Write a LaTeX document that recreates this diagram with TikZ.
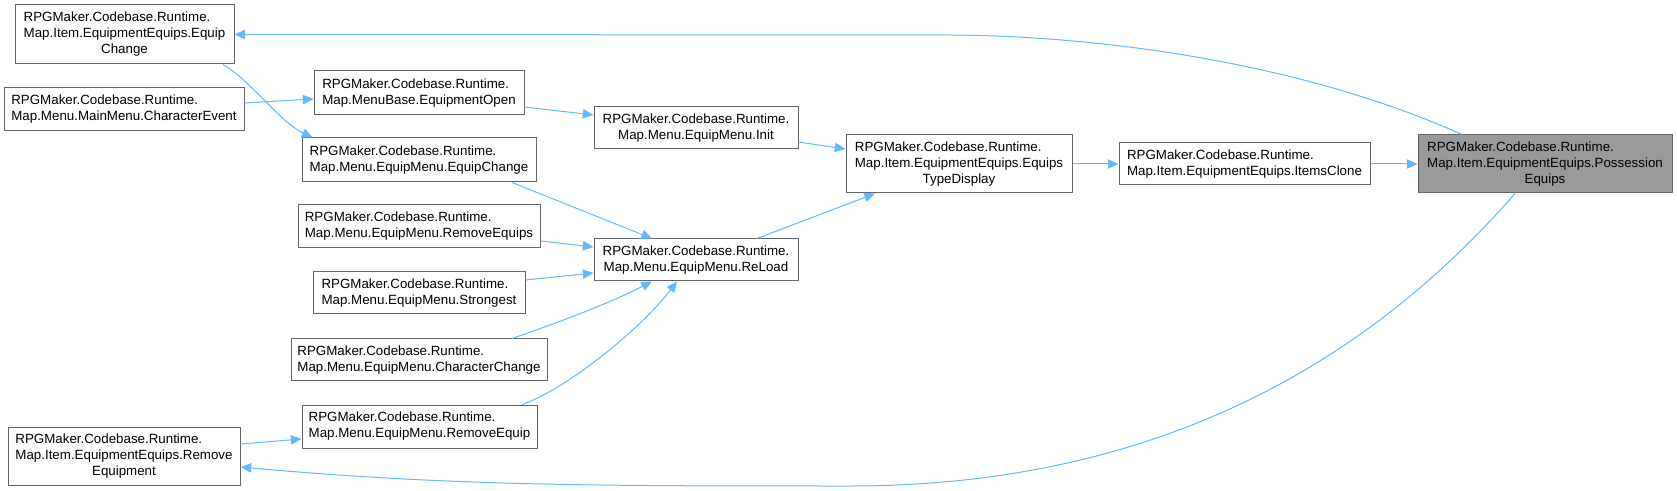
\documentclass[tikz,border=0pt]{standalone}
\usepackage{fontspec}
\setmainfont{Liberation Sans}
\usetikzlibrary{arrows.meta,calc}
\definecolor{edgeblue}{HTML}{63B8FF}
\definecolor{boxline}{HTML}{666666}
\definecolor{focusfill}{HTML}{999999}
\newcommand{\twoL}[2]{\begin{tabular}{@{}l@{}}#1\\#2\end{tabular}}
\newcommand{\twoC}[2]{\begin{tabular}{@{}c@{}}#1\\#2\end{tabular}}
\newcommand{\threeL}[3]{\begin{tabular}{@{}l@{}}#1\\#2\\\multicolumn{1}{@{}c@{}}{#3}\end{tabular}}
\tikzset{
  box/.style n args={2}{draw=boxline, fill=white, line width=0.75pt, inner sep=0pt,
    minimum width=#1*0.75pt, minimum height=#2*0.75pt,
    font=\fontsize{10}{12}\selectfont},
  focusbox/.style={fill=focusfill},
  edgearrow/.style={draw=edgeblue, line width=0.75pt, -{Triangle[length=8pt,width=7pt]}},
}
\begin{document}
\begin{tikzpicture}[x=0.75pt,y=-0.75pt]
\useasboundingbox (0,0) rectangle (1677,491);

\node[box={219}{59}] (eqci) at (124.5,34.5) {\threeL{RPGMaker.Codebase.Runtime.}{Map.Item.EquipmentEquips.Equip}{Change}};
\node[box={240}{43}] (chev) at (124,109.5) {\twoL{RPGMaker.Codebase.Runtime.}{Map.Menu.MainMenu.CharacterEvent}};
\node[box={232}{58}] (rmet) at (124,456) {\threeL{RPGMaker.Codebase.Runtime.}{Map.Item.EquipmentEquips.Remove}{Equipment}};

\node[box={210}{44}] (eqop) at (419,93) {\twoL{RPGMaker.Codebase.Runtime.}{Map.MenuBase.EquipmentOpen}};
\node[box={234}{44}] (emec) at (419,160) {\twoL{RPGMaker.Codebase.Runtime.}{Map.Menu.EquipMenu.EquipChange}};
\node[box={242}{43}] (rmes) at (419,226.5) {\twoL{RPGMaker.Codebase.Runtime.}{Map.Menu.EquipMenu.RemoveEquips}};
\node[box={212}{42}] (strg) at (419,293) {\twoL{RPGMaker.Codebase.Runtime.}{Map.Menu.EquipMenu.Strongest}};
\node[box={256}{42}] (chch) at (419,360) {\twoL{RPGMaker.Codebase.Runtime.}{Map.Menu.EquipMenu.CharacterChange}};
\node[box={235}{43}] (rmeq) at (419.5,426.5) {\twoL{RPGMaker.Codebase.Runtime.}{Map.Menu.EquipMenu.RemoveEquip}};

\node[box={204}{42}] (init) at (696,128) {\twoC{RPGMaker.Codebase.Runtime.}{Map.Menu.EquipMenu.Init}};
\node[box={204}{42}] (reld) at (696,260) {\twoC{RPGMaker.Codebase.Runtime.}{Map.Menu.EquipMenu.ReLoad}};

\node[box={226}{58}] (etd) at (959,164) {\threeL{RPGMaker.Codebase.Runtime.}{Map.Item.EquipmentEquips.Equips}{TypeDisplay}};
\node[box={251}{42}] (iclo) at (1244.5,164) {\twoL{RPGMaker.Codebase.Runtime.}{Map.Item.EquipmentEquips.ItemsClone}};
\node[box={254}{58},focusbox] (poss) at (1545,164) {\threeL{RPGMaker.Codebase.Runtime.}{Map.Item.EquipmentEquips.Possession}{Equips}};

% edges
\draw[edgearrow] ($(poss.north)+(-83,0)$) .. controls (1300,62) and (1100,36) .. (950,35) -- (eqci.east);
\draw[edgearrow] ($(eqci.south)+(98.5,0)$) .. controls (250,80) and (280,122) .. ($(emec.north west)+(11,0)$);
\draw[edgearrow] ($(chev.east)+(0,-6.5)$) -- ($(eqop.west)+(0,6)$);
\draw[edgearrow] ($(eqop.east)+(0,14)$) -- ($(init.west)+(0,-13)$);
\draw[edgearrow] ($(init.east)+(0,14)$) -- ($(etd.west)+(0,-15)$);
\draw[edgearrow] ($(emec.south)+(93,0)$) -- ($(reld.north)+(-44,0)$);
\draw[edgearrow] ($(rmes.east)+(0,14.5)$) -- ($(reld.west)+(0,-13)$);
\draw[edgearrow] ($(strg.east)+(0,-13)$) -- ($(reld.west)+(0,13)$);
\draw[edgearrow] ($(chch.north)+(93,0)$) .. controls (560,322) and (610,303) .. ($(reld.south)+(-44,0)$);
\draw[edgearrow] ($(rmeq.north)+(102.5,0)$) .. controls (565,390) and (640,330) .. ($(reld.south)+(-19,0)$);
\draw[edgearrow] ($(reld.north)+(61,0)$) -- ($(etd.south)+(-84,0)$);
\draw[edgearrow] (etd.east) -- (iclo.west);
\draw[edgearrow] (iclo.east) -- (poss.west);
\draw[edgearrow] ($(poss.south)+(-30,0)$) .. controls (1400,325) and (1200,486) .. (850,486)
   .. controls (600,486) and (450,486) .. ($(rmet.east)+(0,11)$);
\draw[edgearrow] ($(rmet.east)+(0,-12)$) -- ($(rmeq.west)+(0,12.5)$);
\end{tikzpicture}
\end{document}
